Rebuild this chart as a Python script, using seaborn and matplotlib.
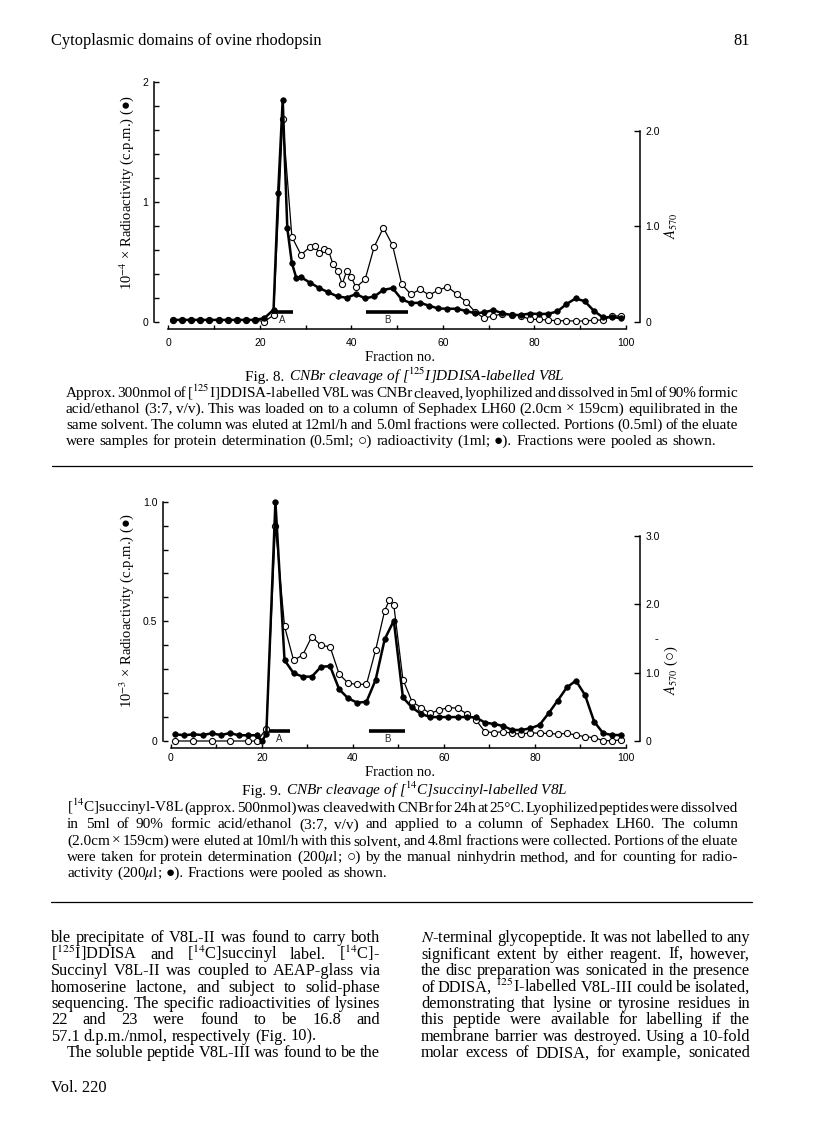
import matplotlib
matplotlib.use("Agg")
import matplotlib.pyplot as plt
import seaborn as sns
import pandas as pd
from matplotlib.ticker import FixedLocator

# Fig. 8 - radioactivity (filled, left axis, 10^-4 x c.p.m.)
f8_cpm_frac = [1, 3, 5, 7, 9, 11, 13, 15, 17, 19, 21, 23, 24, 25, 26, 27, 28, 29,
               31, 33, 35, 37, 39, 41, 43, 45, 47, 49, 51, 53, 55, 57, 59, 61, 63, 65,
               67, 69, 71, 73, 75, 77, 79, 81, 83, 85, 87, 89, 91, 93, 95, 97, 99]
f8_cpm = [0.015, 0.015, 0.015, 0.015, 0.015, 0.015, 0.015, 0.015, 0.015, 0.015,
          0.03, 0.10, 1.07, 1.85, 0.78, 0.49, 0.36, 0.37,
          0.325, 0.28, 0.245, 0.21, 0.20, 0.23, 0.195, 0.21, 0.265, 0.28, 0.186, 0.155,
          0.158, 0.133, 0.11, 0.108, 0.108, 0.09,
          0.07, 0.078, 0.097, 0.07, 0.056, 0.056, 0.068, 0.064, 0.066, 0.085, 0.147,
          0.194, 0.17, 0.09, 0.035, 0.04, 0.028]
# Fig. 8 - A570 (open, right axis)
f8_a570_frac = [1, 3, 5, 7, 9, 11, 13, 15, 17, 19, 21, 23, 25, 27, 29, 31, 32, 33, 34,
                35, 36, 37, 38, 39, 40, 41, 43, 45, 47, 49, 51, 53, 55, 57, 59, 61, 63,
                65, 67, 69, 71, 73, 75, 77, 79, 81, 83, 85, 87, 89, 91, 93, 95, 97, 99]
f8_a570 = [0.018, 0.018, 0.018, 0.018, 0.018, 0.018, 0.018, 0.018, 0.018, 0.018,
           0.0, 0.07, 2.12, 0.89, 0.70, 0.785, 0.79, 0.72, 0.757,
           0.743, 0.60, 0.534, 0.394, 0.534, 0.464, 0.36, 0.443, 0.785, 0.984, 0.80,
           0.394, 0.286, 0.339, 0.279, 0.33, 0.366, 0.29,
           0.21, 0.105, 0.035, 0.063, 0.08, 0.07, 0.063, 0.024, 0.024, 0.017, 0.01,
           0.01, 0.007, 0.007, 0.017, 0.017, 0.06, 0.06]
f8_pools = {"A": (22.6, 27.2), "B": (43.3, 52.4)}
f8_left_ticks = [0, 1, 2]
f8_left_labels = ["0", "1", "2"]
f8_right_ticks = [0, 1.0, 2.0]
f8_right_labels = ["0", "1.0", "2.0"]

# Fig. 9 - radioactivity (filled, left axis, 10^-3 x c.p.m.)
f9_cpm_frac = [1, 3, 5, 7, 9, 11, 13, 15, 17, 19, 20, 21,
               23, 25, 27, 29, 31, 33, 35, 37, 39, 41, 43, 45, 47, 49, 51, 53, 55, 57,
               59, 61, 63, 65, 67, 69, 71, 73, 75, 77, 79, 81, 83, 85, 87, 89, 91, 93,
               95, 97, 99]
f9_cpm = [0.028, 0.024, 0.028, 0.025, 0.032, 0.025, 0.033, 0.024, 0.024, 0.024, 0.0, 0.028,
          1.0, 0.338, 0.283, 0.269, 0.269, 0.31, 0.313, 0.216, 0.178, 0.16,
          0.164, 0.255, 0.425, 0.503, 0.182, 0.14, 0.113, 0.10, 0.10, 0.10,
          0.10, 0.10, 0.099, 0.077, 0.071, 0.063, 0.046, 0.046, 0.053, 0.067,
          0.116, 0.169, 0.224, 0.252, 0.192, 0.081, 0.032, 0.025, 0.025]
# Fig. 9 - A570 (open, right axis)
f9_a570_frac = [1, 5, 9, 13, 17, 19, 21, 23, 25, 27, 29, 31, 33, 35, 37, 39, 41, 43, 45,
                47, 48, 49, 51, 53, 55, 57, 59, 61, 63, 65, 67, 69, 71, 73, 75, 77, 79,
                81, 83, 85, 87, 89, 91, 93, 95, 97, 99]
f9_a570 = [0.0, 0.0, 0.0, 0.0, 0.0, 0.0, 0.18, 3.15, 1.68, 1.18, 1.26, 1.53, 1.40, 1.38,
           0.98, 0.844, 0.83, 0.83, 1.33, 1.91, 2.06, 1.99, 0.90, 0.576, 0.49, 0.405,
           0.454, 0.49, 0.48, 0.40, 0.31, 0.137, 0.122, 0.137, 0.112, 0.10, 0.122,
           0.112, 0.112, 0.10, 0.112, 0.088, 0.063, 0.049, 0.005, 0.005, 0.015]
f9_pools = {"A": (21.5, 26.1), "B": (43.6, 51.5)}
f9_left_ticks = [0, 0.5, 1.0]
f9_left_labels = ["0", "0.5", "1.0"]
f9_right_ticks = [0, 1.0, 2.0, 3.0]
f9_right_labels = ["0", "1.0", "2.0", "3.0"]

frac_ticks = [0, 20, 40, 60, 80, 100]
frac_labels = ["0", "20", "40", "60", "80", "100"]

header_left = "Cytoplasmic domains of ovine rhodopsin"
header_right = "81"
cap8_title = [("Fig. 8.", "normal"), ("CNBr cleavage of [$^{125}$I]DDISA-labelled V8L", "italic")]
cap8_lines = [
    "Approx. 300nmol of [$^{125}$I]DDISA-labelled V8L was CNBr cleaved, lyophilized and dissolved in 5ml of 90% formic",
    "acid/ethanol (3:7, v/v). This was loaded on to a column of Sephadex LH60 (2.0cm × 159cm) equilibrated in the",
    "same solvent. The column was eluted at 12ml/h and 5.0ml fractions were collected. Portions (0.5ml) of the eluate",
    "were samples for protein determination (0.5ml; ○) radioactivity (1ml; ●). Fractions were pooled as shown.",
]
cap9_title = [("Fig. 9.", "normal"), ("CNBr cleavage of [$^{14}$C]succinyl-labelled V8L", "italic")]
cap9_lines = [
    "[$^{14}$C]succinyl-V8L (approx. 500nmol) was cleaved with CNBr for 24h at 25°C. Lyophilized peptides were dissolved",
    "in 5ml of 90% formic acid/ethanol (3:7, v/v) and applied to a column of Sephadex LH60. The column",
    "(2.0cm × 159cm) were eluted at 10ml/h with this solvent, and 4.8ml fractions were collected. Portions of the eluate",
    "were taken for protein determination (200$\\mu$l; ○) by the manual ninhydrin method, and for counting for radio-",
    "activity (200$\\mu$l; ●). Fractions were pooled as shown.",
]
body_left = [
    "ble precipitate of V8L-II was found to carry both",
    "[$^{125}$I]DDISA and [$^{14}$C]succinyl label. [$^{14}$C]-",
    "Succinyl V8L-II was coupled to AEAP-glass via",
    "homoserine lactone, and subject to solid-phase",
    "sequencing. The specific radioactivities of lysines",
    "22 and 23 were found to be 16.8 and",
    "57.1 d.p.m./nmol, respectively (Fig. 10).",
    "The soluble peptide V8L-III was found to be the",
]
body_right = [
    "$N$-terminal glycopeptide. It was not labelled to any",
    "significant extent by either reagent. If, however,",
    "the disc preparation was sonicated in the presence",
    "of DDISA, $^{125}$I-labelled V8L-III could be isolated,",
    "demonstrating that lysine or tyrosine residues in",
    "this peptide were available for labelling if the",
    "membrane barrier was destroyed. Using a 10-fold",
    "molar excess of DDISA, for example, sonicated",
]
footer = "Vol. 220"

sns.set_style("white")
plt.rcParams["font.family"] = ["Liberation Sans", "DejaVu Sans"]
plt.rcParams["mathtext.fontset"] = "stix"
serif = ["Liberation Serif", "DejaVu Sans"]

W, H = 816, 1147
fig = plt.figure(figsize=(W / 100, H / 100), dpi=100)
fig.patch.set_facecolor("white")
rend = fig.canvas.get_renderer()


def txt(x, y, s, size, **kw):
    kw.setdefault("va", "center")
    return fig.text(x / W, 1 - y / H, s, fontsize=size, family=serif, color="black", **kw)


def base(y, size):
    # y is the visual centre of the line; move it to the baseline
    return y + 0.27 * size * 100 / 72


def line_out(s, x0, x1, y, size, justify=True):
    words = s.split(" ")
    parts = [txt(0, base(y, size), w, size, va="baseline") for w in words]
    widths = [p.get_window_extent(rend).width for p in parts]
    gap = size * 100 / 72 * 0.25
    if justify and len(words) > 1:
        gap = (x1 - x0 - sum(widths)) / (len(words) - 1)
    x = x0
    for p, w in zip(parts, widths):
        p.set_x(x / W)
        x += w + gap


def title_out(segs, xc, y, size):
    parts = [txt(0, base(y, size), s, size, style=st, va="baseline") for s, st in segs]
    widths = [p.get_window_extent(rend).width for p in parts]
    gap = size * 100 / 72 * 0.3
    x = xc - (sum(widths) + gap * (len(parts) - 1)) / 2
    for p, w in zip(parts, widths):
        p.set_x(x / W)
        x += w + gap


def panel(box, xlim, cpm_x, cpm, a_x, a, ltop, lticks, llabels, lminor, rtop, rticks,
          rlabels, pools, pool_y, xoff, xpad):
    left, top, right, bottom = box
    ax = fig.add_axes([left / W, 1 - bottom / H, (right - left) / W, (bottom - top) / H])
    tw = ax.twinx()
    ax.set_zorder(tw.get_zorder() + 1)
    ax.patch.set_visible(False)

    sns.lineplot(data=pd.DataFrame({"fraction": a_x, "a570": a}), x="fraction", y="a570",
                 ax=tw, color="black", lw=0.9, marker="o", markersize=4.4,
                 markerfacecolor="white", markeredgecolor="black", markeredgewidth=0.8,
                 estimator=None, clip_on=False)
    sns.lineplot(data=pd.DataFrame({"fraction": cpm_x, "cpm": cpm}), x="fraction", y="cpm",
                 ax=ax, color="black", lw=1.8, marker="o", markersize=4.0,
                 markerfacecolor="black", markeredgecolor="black", markeredgewidth=0.5,
                 estimator=None, clip_on=False)

    for name, (x0, x1) in pools.items():
        ax.hlines(pool_y, x0, x1, color="black", lw=2.6)
        ax.text((x0 + x1) / 2, pool_y * 0.15, name, fontsize=7, ha="center", va="center")

    for a_ in (ax, tw):
        a_.set_xlim(*xlim)
        a_.set_xlabel("")
        a_.set_ylabel("")
        for s in a_.spines.values():
            s.set_visible(False)
    ax.set_ylim(0, ltop)
    tw.set_ylim(0, rtop)

    ax.spines["left"].set_visible(True)
    ax.spines["left"].set_bounds(0, lticks[-1])
    ax.spines["bottom"].set_visible(True)
    ax.spines["bottom"].set_position(("outward", xoff))
    ax.spines["bottom"].set_bounds(0, 100)
    tw.spines["right"].set_visible(True)
    tw.spines["right"].set_bounds(0, rticks[-1])
    for s in (ax.spines["left"], ax.spines["bottom"], tw.spines["right"]):
        s.set_linewidth(1.1)
        s.set_color("black")

    ax.set_yticks(lticks)
    ax.set_yticklabels(llabels)
    ax.yaxis.set_minor_locator(FixedLocator(lminor))
    ax.set_xticks(frac_ticks)
    ax.set_xticklabels(frac_labels)
    ax.xaxis.set_minor_locator(FixedLocator([10, 30, 50, 70, 90]))
    tw.set_yticks(rticks)
    tw.set_yticklabels(rlabels)
    ax.tick_params(axis="y", which="both", direction="in", length=3.5, width=1.0,
                   labelsize=7.5, pad=4, left=True, colors="black")
    ax.tick_params(axis="x", which="both", direction="in", length=3, width=1.0,
                   labelsize=7.5, pad=xpad, bottom=True, colors="black")
    tw.tick_params(axis="y", which="both", direction="in", length=4, width=1.0,
                   labelsize=7.5, pad=4, right=True, colors="black")
    return ax, tw


# header
txt(51, 41, header_left, 11.8)
txt(750, 41, header_right, 11.8, ha="right")

# Fig. 8
panel((154, 81.7, 640, 321.7), (-3.12, 103.06), f8_cpm_frac, f8_cpm, f8_a570_frac, f8_a570,
      2.0, f8_left_ticks, f8_left_labels, [0.2 * i for i in range(11)], 2.513,
      f8_right_ticks, f8_right_labels, f8_pools, 0.083, 5.5, 6)
txt(127, 192, "10$^{-4}$ × Radioactivity (c.p.m.) (●)", 10.5, rotation=90, ha="center")
txt(671, 226, "$A_{570}$", 10.5, rotation=90, ha="center")
txt(400, 357, "Fraction no.", 10.5, ha="center")
title_out(cap8_title, 405, 377, 11)
for i, s in enumerate(cap8_lines):
    line_out(s, 66, 738, 393 + 16 * i, 11, justify=i < len(cap8_lines) - 1)

fig.add_artist(plt.Line2D([52 / W, 752 / W], [1 - 466 / H] * 2, color="black", lw=0.9))

# Fig. 9
panel((163, 501.7, 640, 741), (-1.69, 103.07), f9_cpm_frac, f9_cpm, f9_a570_frac, f9_a570,
      1.0, f9_left_ticks, f9_left_labels, [0.1 * i for i in range(11)], 3.504,
      f9_right_ticks, f9_right_labels, f9_pools, 0.043, 5, 3.5)
txt(127, 610, "10$^{-3}$ × Radioactivity (c.p.m.) (●)", 10.5, rotation=90, ha="center")
txt(656, 640, "-", 8, ha="center")
txt(671, 670, "$A_{570}$ (○)", 10.5, rotation=90, ha="center")
txt(400, 773, "Fraction no.", 10.5, ha="center")
title_out(cap9_title, 405, 791, 11)
for i, s in enumerate(cap9_lines):
    line_out(s, 67, 738, 808 + 16.3 * i, 11, justify=i < len(cap9_lines) - 1)

fig.add_artist(plt.Line2D([51 / W, 752 / W], [1 - 902 / H] * 2, color="black", lw=0.9))

# two-column body text
for i, s in enumerate(body_left):
    y = 938 + 16.4 * i
    if i == 6:
        line_out(s, 51, 380, y, 11.8, justify=False)
    elif i == 7:
        line_out(s, 67, 380, y, 11.8)
    else:
        line_out(s, 51, 380, y, 11.8)
for i, s in enumerate(body_right):
    line_out(s, 421, 750, 938 + 16.4 * i, 11.8)
txt(51, 1088, footer, 11.8)

fig.savefig("out.png", dpi=100, facecolor="white")
